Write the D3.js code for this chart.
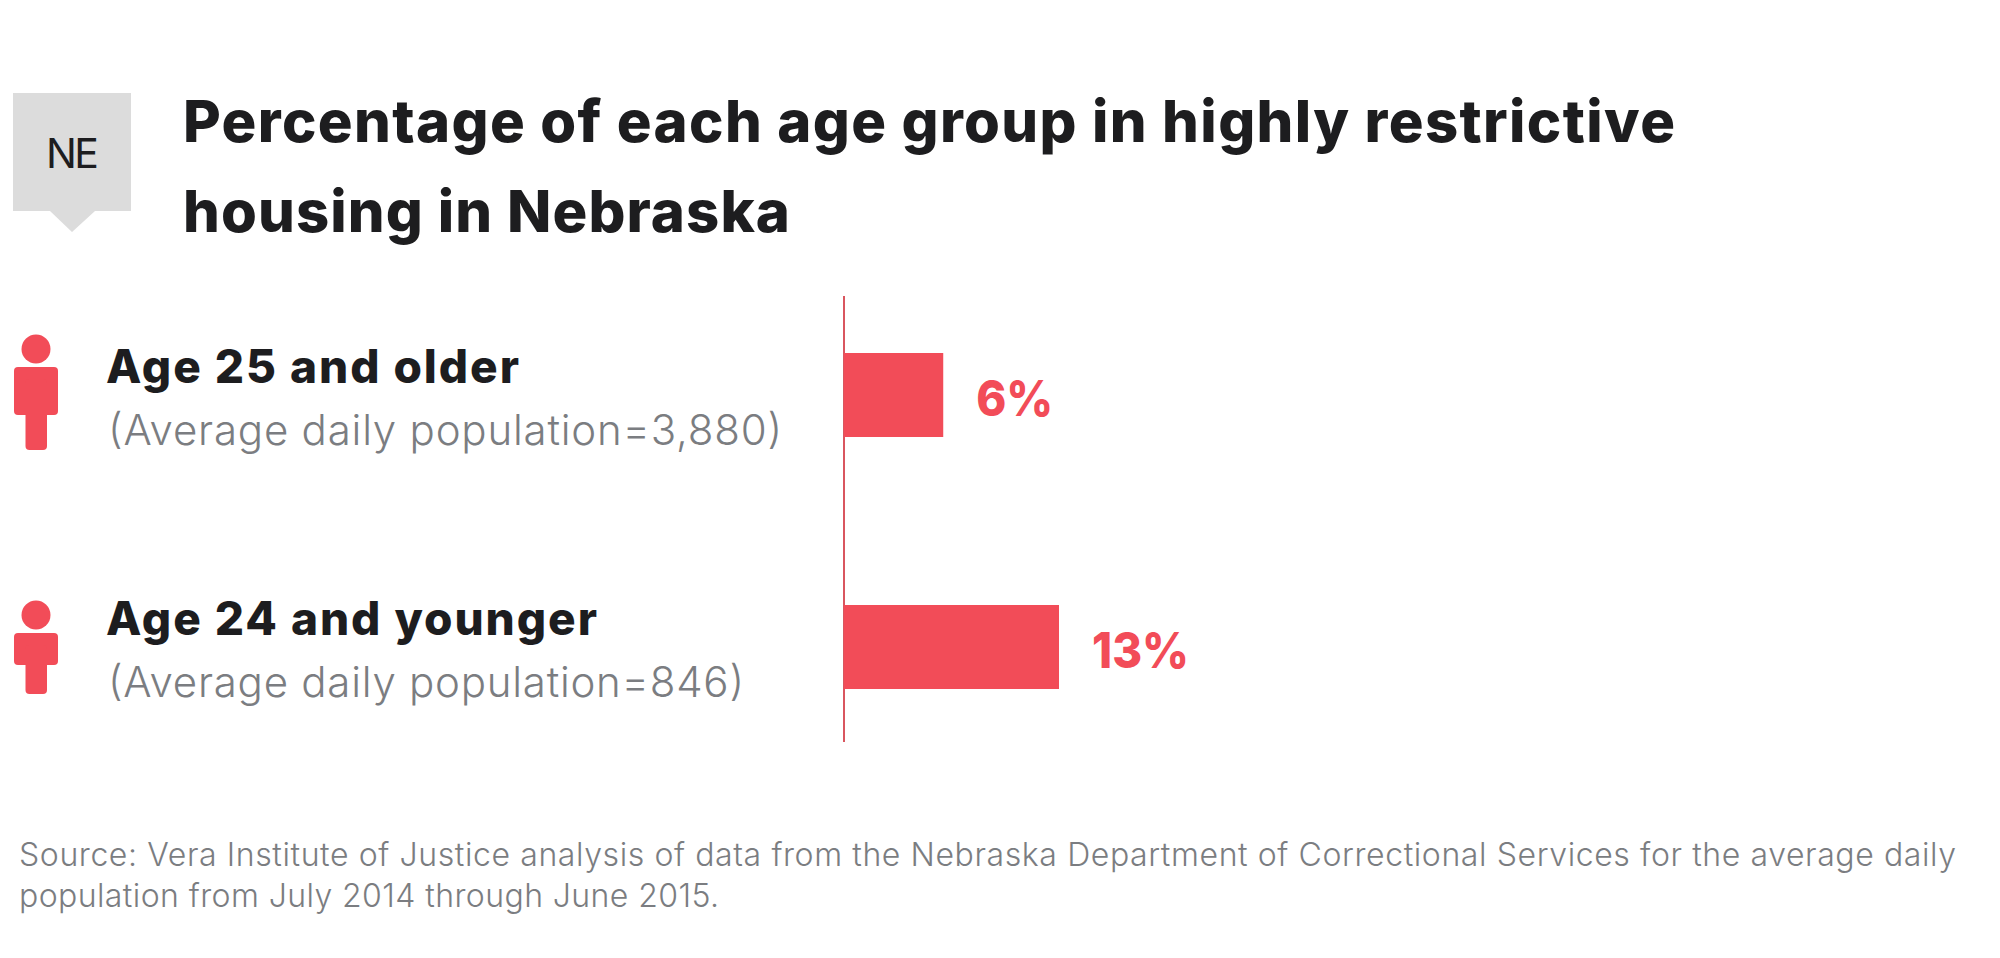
<!DOCTYPE html>
<html>
<head>
<meta charset="utf-8">
<script src="https://cdn.jsdelivr.net/npm/d3@7"></script>
<style>
    html, body { margin: 0; padding: 0; background: #ffffff; }
    svg { display: block; }
    text { font-family: Inter, "Noto Sans", sans-serif; }
    .title { font-size: 58px; font-weight: 800; fill: #1d1d1f; }
    .age { font-size: 46px; font-weight: 800; fill: #1d1d1f; }
    .pop { font-size: 42px; font-weight: 300; fill: #7b7d81; }
    .pct { font-size: 50px; font-weight: 800; fill: #f24c58; }
    .state { font-size: 41px; font-weight: 400; fill: #1d1d1f; }
    .source { font-size: 32px; font-weight: 300; fill: #7b7d81; }
</style>
</head>
<body>
<div id="chart"></div>
<script>
const stateCode = "NE";
const titleLines = ["Percentage of each age group in highly restrictive", "housing in Nebraska"];
const ageGroups = ["Age 25 and older", "Age 24 and younger"];
const population = [3880, 846];
const percent = [6, 13];
const sourceLines = [
    "Source: Vera Institute of Justice analysis of data from the Nebraska Department of Correctional Services for the average daily",
    "population from July 2014 through June 2015."
];

const width = 2000;
const height = 958;
const red = "#f24c58";

// the original typeface runs wider than Inter, so line lengths are pinned
const titleLengths = [1492, 607];
const ageLengths = [413, 491];
const popLengths = [674, 636];
const pctLengths = [77, 97];
const sourceLengths = [1937, 700];

const svg = d3.select("#chart")
    .append("svg")
    .attr("width", width)
    .attr("height", height);

/*
SCALES
*/
const xScale = d3.scaleLinear()
    .domain([0, 13])
    .range([844, 1059]);

const yScale = d3.scaleBand()
    .domain(ageGroups)
    .range([269, 773])
    .paddingInner(2 / 3)
    .paddingOuter(1 / 3);

/*
STATE TAG + TITLE
*/
svg.append("path")
    .attr("d", "M13,93H131V211H95L72,232L50,211H13Z")
    .attr("fill", "#dcdcdc");

svg.append("text")
    .attr("class", "state")
    .attr("x", 46)
    .attr("y", 168)
    .attr("textLength", 53)
    .text(stateCode);

svg.selectAll(".title")
    .data(titleLines)
    .enter()
    .append("text")
    .attr("class", "title")
    .attr("x", 183)
    .attr("y", function(d, i) { return 142 + i * 90; })
    .attr("textLength", function(d, i) { return titleLengths[i]; })
    .text(function(d) { return d; });

/*
AXIS LINE + BARS
*/
svg.append("line")
    .attr("x1", xScale(0))
    .attr("x2", xScale(0))
    .attr("y1", 296)
    .attr("y2", 742)
    .attr("stroke", "#d9565f")
    .attr("stroke-width", 2);

svg.selectAll(".bar")
    .data(ageGroups)
    .enter()
    .append("rect")
    .attr("class", "bar")
    .attr("x", xScale(0))
    .attr("y", function(d) { return yScale(d); })
    .attr("width", function(d, i) { return xScale(percent[i]) - xScale(0); })
    .attr("height", yScale.bandwidth())
    .attr("fill", red);

svg.selectAll(".pct")
    .data(ageGroups)
    .enter()
    .append("text")
    .attr("class", "pct")
    .attr("x", function(d, i) { return xScale(percent[i]) + 33; })
    .attr("y", function(d) { return yScale(d) + yScale.bandwidth() / 2 + 21; })
    .attr("textLength", function(d, i) { return pctLengths[i]; })
    .attr("lengthAdjust", "spacingAndGlyphs")
    .text(function(d, i) { return percent[i] + "%"; });

/*
ROW LABELS
*/
const fmt = d3.format(",");

svg.selectAll(".age")
    .data(ageGroups)
    .enter()
    .append("text")
    .attr("class", "age")
    .attr("x", 106)
    .attr("y", function(d) { return yScale(d) + 30; })
    .attr("textLength", function(d, i) { return ageLengths[i]; })
    .text(function(d) { return d; });

svg.selectAll(".pop")
    .data(ageGroups)
    .enter()
    .append("text")
    .attr("class", "pop")
    .attr("x", 108)
    .attr("y", function(d) { return yScale(d) + 92; })
    .attr("textLength", function(d, i) { return popLengths[i]; })
    .text(function(d, i) { return "(Average daily population=" + fmt(population[i]) + ")"; });

/*
PERSON ICONS - first one is drawn taller than the second
*/
const iconLegBottom = [97, 89];
const iconTop = [-4, 10];

ageGroups.forEach(function(d, i) {
    const base = yScale(d);
    const top = base + iconTop[i];
    const g = svg.append("g").attr("fill", red);
    g.append("circle").attr("cx", 36).attr("cy", top).attr("r", 14.5);
    const armBottom = top + (i === 0 ? 66 : 50);
    const bottom = base + iconLegBottom[i];
    g.append("rect")
        .attr("x", 14).attr("y", top + 18)
        .attr("width", 44).attr("height", armBottom - top - 18)
        .attr("rx", 4);
    g.append("rect")
        .attr("x", 25.5).attr("y", top + 30)
        .attr("width", 21.5).attr("height", bottom - top - 30)
        .attr("rx", 4);
});

/*
SOURCE NOTE
*/
svg.selectAll(".source")
    .data(sourceLines)
    .enter()
    .append("text")
    .attr("class", "source")
    .attr("x", 19)
    .attr("y", function(d, i) { return 866 + i * 41; })
    .attr("textLength", function(d, i) { return sourceLengths[i]; })
    .text(function(d) { return d; });
</script>
</body>
</html>
